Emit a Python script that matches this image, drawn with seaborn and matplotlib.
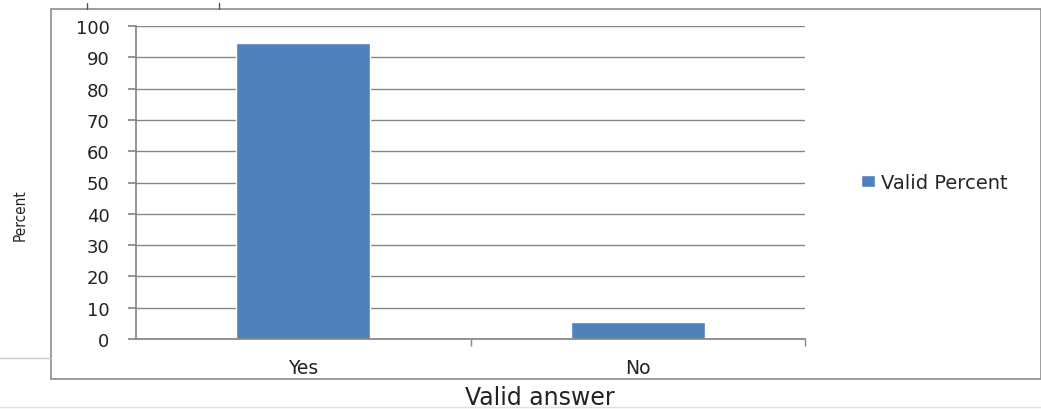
import matplotlib.pyplot as plt
import seaborn as sns
from matplotlib.patches import Rectangle
from matplotlib.lines import Line2D

answers = ["Yes", "No"]
valid_percent = [94.6, 5.4]
series_name = "Valid Percent"
y_ticks = [0, 10, 20, 30, 40, 50, 60, 70, 80, 90, 100]

sns.set_theme(style="white")
plt.rcParams['font.family'] = ['DejaVu Sans']

W, H = 1041, 410
fig = plt.figure(figsize=(W / 100, H / 100), dpi=100)
fig.patch.set_facecolor("white")

# plot area in pixel coordinates of the reference
left, right, top, bottom = 136, 805, 27, 340
ax = fig.add_axes([left / W, 1 - bottom / H, (right - left) / W, (bottom - top) / H])

sns.barplot(x=answers, y=valid_percent, color="#4F81BD", width=0.4,
            saturation=1, ax=ax, label=series_name)

ax.set_ylim(0, 100)
ax.set_xlim(-0.5, 1.5)
ax.set_yticks(y_ticks)
ax.yaxis.grid(True, color="#868686", linewidth=1.0)
ax.set_axisbelow(True)
for s in ["top", "right"]:
    ax.spines[s].set_visible(False)
ax.spines["left"].set_color("#868686")
ax.spines["bottom"].set_color("#868686")
ax.tick_params(axis="y", left=True, length=6, color="#868686", labelsize=13,
               pad=13, labelcolor="#222222")
ax.tick_params(axis="x", bottom=False, labelsize=13.5, pad=8, labelcolor="#222222")
# category divider ticks like Excel
ax.set_xticks([0.5, 1.5], minor=True)
ax.tick_params(axis="x", which="minor", bottom=True, length=5, color="#868686")
ax.set_xlabel("")
ax.set_ylabel("")

ax.legend(loc="center left", bbox_to_anchor=((843 - left) / (right - left), 0.5),
          frameon=False, fontsize=14, handlelength=0.75, handleheight=0.55,
          handletextpad=0.3)

fig.text(20 / W, 1 - 215 / H, "Percent", rotation=90, ha="center", va="center",
         fontsize=11, fontstretch="condensed", color="#222222")
fig.text(540 / W, 1 - 398 / H, "Valid answer", ha="center", va="center",
         fontsize=17, color="#222222")

# outer chart border and stray scan lines
fig.add_artist(Rectangle((51 / W, 1 - 380 / H), (W - 51) / W, (380 - 10) / H,
                         transform=fig.transFigure, fill=False,
                         edgecolor="#8C8C8C", linewidth=1.2))
fig.add_artist(Line2D([0, 51 / W], [1 - 359 / H, 1 - 359 / H],
                      transform=fig.transFigure, color="#C8C8C8", linewidth=1))
fig.add_artist(Line2D([0, 1], [1 - 408 / H, 1 - 408 / H],
                      transform=fig.transFigure, color="#E0E0E0", linewidth=1))
for x in [87, 219]:
    fig.add_artist(Line2D([x / W, x / W], [1 - 4 / H, 1 - 10 / H],
                          transform=fig.transFigure, color="#555555", linewidth=1))

fig.savefig("out.png", dpi=100)
